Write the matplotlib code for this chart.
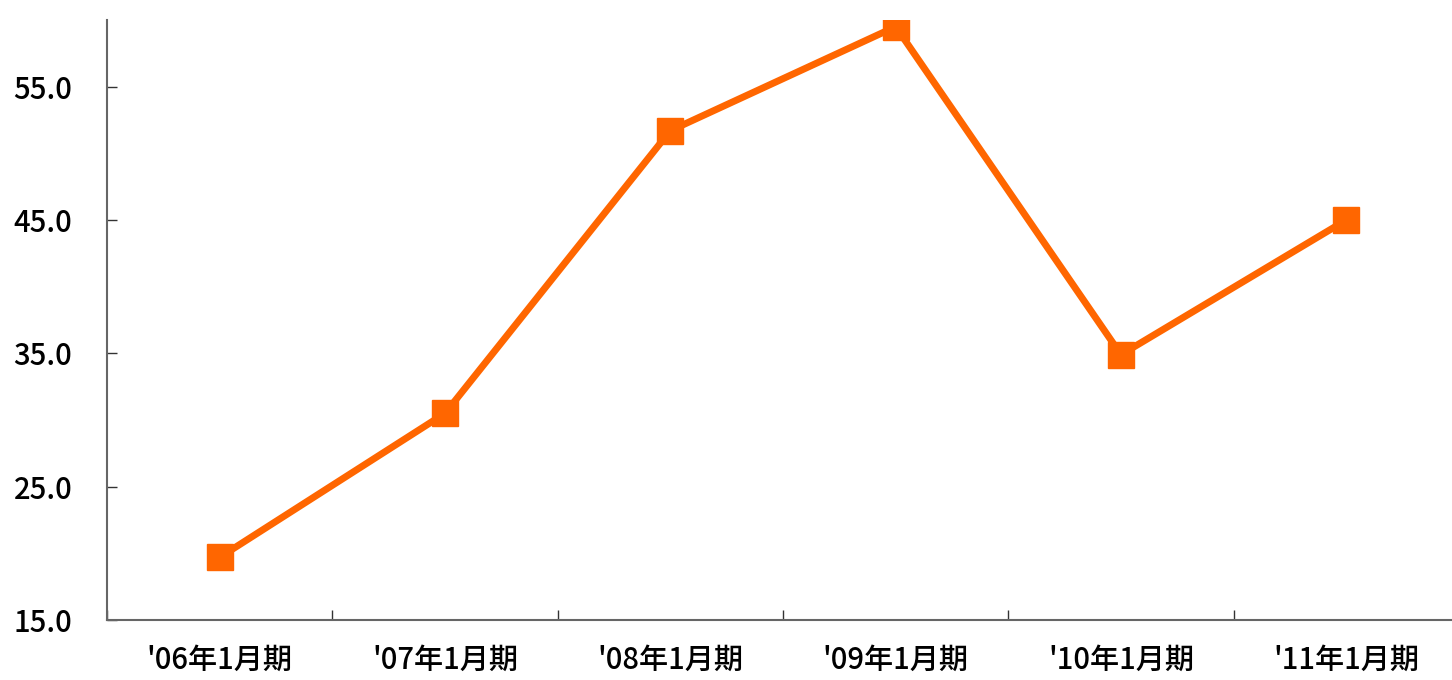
import numpy as np
import matplotlib as mpl
mpl.use('Agg')
import matplotlib.pyplot as plt

plt.rcParams['font.family'] = ['Noto Sans CJK JP', 'DejaVu Sans']

# fiscal periods and values
periods = ["'06年1月期", "'07年1月期", "'08年1月期", "'09年1月期", "'10年1月期", "'11年1月期"]
values = [19.7, 30.5, 51.7, 59.5, 34.9, 45.0]
yticks = [15.0, 25.0, 35.0, 45.0, 55.0]

fig = plt.figure(figsize=(14.52, 6.8), dpi=100)
# plot area runs slightly past the right edge of the canvas
ax = fig.add_axes([107/1452, 60/680, 1352/1452, 600/680])

x = np.arange(len(periods))
ax.plot(x, values, color='#FF6600', linewidth=5, marker='s', markersize=19,
        markerfacecolor='#FF6600', markeredgecolor='#FF6600')

ax.set_xlim(-0.5, len(periods) - 0.5)
ax.set_ylim(15, 60)

# category boundaries get the ticks, labels sit in the middle
ax.set_xticks(np.arange(len(periods) + 1) - 0.5)
ax.set_xticklabels([])
ax.set_xticks(x, minor=True)
ax.set_xticklabels(periods, minor=True, fontsize=21, fontweight='medium')
ax.tick_params(axis='x', which='minor', length=0, pad=18)
ax.tick_params(axis='x', which='major', direction='in', length=7, width=1, color='#333333')

ax.set_yticks(yticks)
ax.set_yticklabels(['%.1f' % v for v in yticks], fontsize=21, fontweight='medium')
ax.tick_params(axis='y', direction='in', length=7, width=1, color='#333333', pad=25)

for side in ['top', 'right']:
    ax.spines[side].set_visible(False)
for side in ['left', 'bottom']:
    ax.spines[side].set_color('#666666')
    ax.spines[side].set_linewidth(1.5)

fig.savefig('out.png', dpi=100)
